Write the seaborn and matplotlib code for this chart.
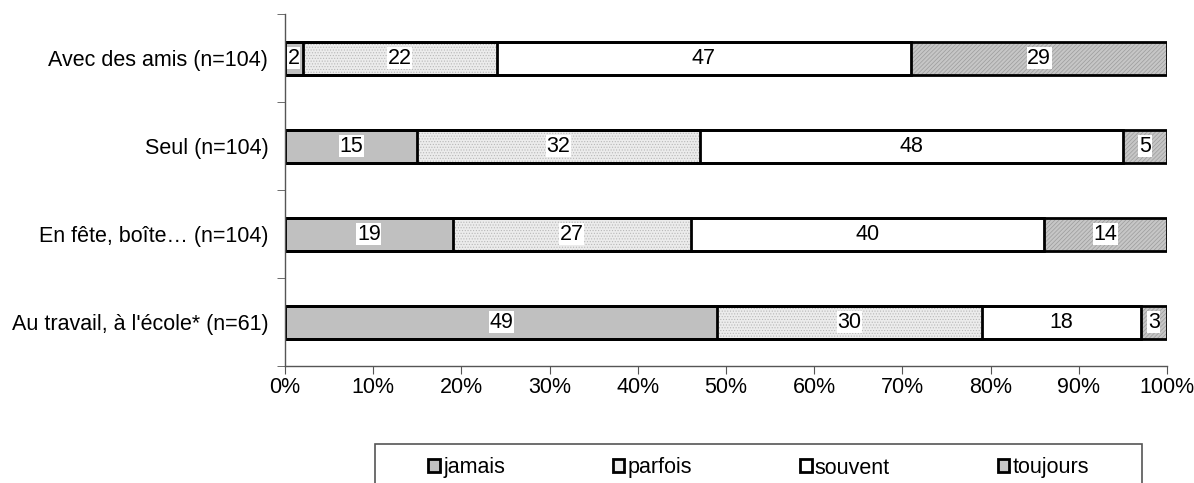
import numpy as np
import pandas as pd
import matplotlib
matplotlib.use("Agg")
import matplotlib.pyplot as plt
import seaborn as sns
from matplotlib.patches import Patch, Rectangle

# data
categories = ["Avec des amis (n=104)", "Seul (n=104)", "En fête, boîte… (n=104)",
              "Au travail, à l'école* (n=61)"]
series = ["jamais", "parfois", "souvent", "toujours"]
jamais = [2, 15, 19, 49]
parfois = [22, 32, 27, 30]
souvent = [47, 48, 40, 18]
toujours = [29, 5, 14, 3]

colors = {"jamais": "#C0C0C0", "parfois": "#ECECEC", "souvent": "#FFFFFF", "toujours": "#C6C6C6"}
hatches = {"jamais": None, "parfois": "......", "souvent": None, "toujours": "////////"}
hatch_col = {"jamais": "none", "parfois": "#B8B8B8", "souvent": "none", "toujours": "#9C9C9C"}

sns.set_style("white", rc={"text.color": "black", "xtick.color": "black", "ytick.color": "black"})
plt.rcParams["font.family"] = ["Liberation Sans", "DejaVu Sans"]
plt.rcParams["hatch.linewidth"] = 0.5
FS = 15.5

df = pd.DataFrame({"cat": categories, "jamais": jamais, "parfois": parfois,
                   "souvent": souvent, "toujours": toujours})
cum = df[series].cumsum(axis=1)

fig = plt.figure(figsize=(11.94, 4.83), dpi=100)
ax = fig.add_axes([0.2387, 0.242, 0.7387, 0.729])

# fills: cumulative bars from the longest to the shortest
for s in reversed(series):
    n_before = len(ax.patches)
    sns.barplot(x=cum[s], y=df["cat"], orient="h", color=colors[s], width=0.375,
                saturation=1, linewidth=0, ax=ax)
    for p in ax.patches[n_before:]:
        p.set_edgecolor(hatch_col[s])
        p.set_linewidth(0)
        if hatches[s]:
            p.set_hatch(hatches[s])

# outlines of every segment
for s in reversed(series):
    n_before = len(ax.patches)
    sns.barplot(x=cum[s], y=df["cat"], orient="h", width=0.375, fill=False,
                edgecolor="black", linewidth=2, ax=ax)
    for p in ax.patches[n_before:]:
        p.set_facecolor("none")
        p.set_edgecolor("black")

# value labels
for i in range(len(categories)):
    left = 0
    for s in series:
        v = df[s][i]
        ax.text(left + v / 2, i, str(v), ha="center", va="center", fontsize=FS,
                bbox=dict(facecolor="white", edgecolor="none", pad=0.5))
        left += v

ax.set_xlim(0, 100)
ax.set_ylim(3.5, -0.5)
ax.set_xticks(np.arange(0, 101, 10))
ax.set_xticklabels([f"{t}%" for t in range(0, 101, 10)], fontsize=FS)
ax.set_yticks(np.arange(-0.5, 4, 1), minor=True)
ax.tick_params(axis="y", which="major", length=0, labelsize=FS, pad=12)
ax.tick_params(axis="y", which="minor", length=6, direction="out", color="#555555", left=True)
ax.tick_params(axis="x", length=6, direction="out", color="#555555", bottom=True, pad=2)
ax.set_xlabel("")
ax.set_ylabel("")
for side in ["top", "right"]:
    ax.spines[side].set_visible(False)
for side in ["left", "bottom"]:
    ax.spines[side].set_color("#555555")
    ax.spines[side].set_linewidth(1)

# legend frame drawn by hand (it runs off the bottom of the figure)
W, H = 1194, 483
fig.patches.append(Rectangle((375 / W, -0.02), 767 / W, 1 - 444 / H + 0.02,
                             transform=fig.transFigure, fill=False,
                             edgecolor="#555555", linewidth=1.2))
handles = [Patch(facecolor=colors[s], edgecolor="black", linewidth=2, label=s) for s in series]
fig.legend(handles=handles, ncol=4, loc="center left", bbox_to_anchor=(428 / W, 1 - 468 / H),
           bbox_transform=fig.transFigure, frameon=False, fontsize=FS,
           handlelength=0.55, handleheight=0.55, handletextpad=0.15, columnspacing=5.0,
           borderpad=0, borderaxespad=0)

fig.savefig("out.png", dpi=100)
